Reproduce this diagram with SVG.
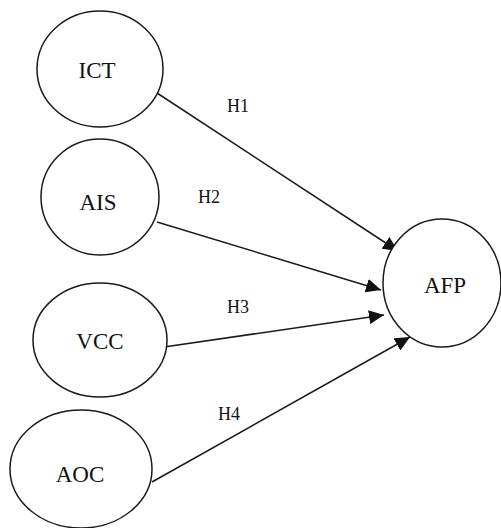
<svg xmlns="http://www.w3.org/2000/svg" width="501" height="528" viewBox="0 0 501 528">
<defs>
<style>
.node ellipse{fill:#fff;stroke:#1a1a1a;stroke-width:1.5}
.node text{font-family:"Liberation Serif","Times New Roman",serif;font-size:23px;fill:#111;text-anchor:middle}
.edge line{stroke:#1a1a1a;stroke-width:1.5}
.lbl{font-family:"Liberation Serif","Times New Roman",serif;font-size:18px;fill:#111;text-anchor:middle}
</style>
<marker id="arr" markerUnits="userSpaceOnUse" markerWidth="16" markerHeight="14" refX="15" refY="7" orient="auto">
<path d="M0,0 L15,7 L0,14 z" fill="#111"/>
</marker>
</defs>
<rect width="501" height="528" fill="#fff"/>
<g id="connectors" class="edge">
<line x1="157" y1="93" x2="398" y2="251" marker-end="url(#arr)"/>
<line x1="157" y1="222" x2="381" y2="290" marker-end="url(#arr)"/>
<line x1="164" y1="347" x2="384" y2="315" marker-end="url(#arr)"/>
<line x1="152" y1="482" x2="410" y2="337" marker-end="url(#arr)"/>
<text class="lbl" x="238" y="112">H1</text>
<text class="lbl" x="209" y="203">H2</text>
<text class="lbl" x="238" y="313">H3</text>
<text class="lbl" x="229" y="420">H4</text>
</g>
<g id="ICT" class="node"><ellipse cx="100" cy="69" rx="63" ry="58"/><text x="97" y="78">ICT</text></g>
<g id="AIS" class="node"><ellipse cx="100" cy="197" rx="59" ry="58"/><text x="98" y="210">AIS</text></g>
<g id="VCC" class="node"><ellipse cx="100" cy="340" rx="67" ry="57"/><text x="100" y="349">VCC</text></g>
<g id="AOC" class="node"><ellipse cx="81" cy="469" rx="71" ry="59"/><text x="80" y="482">AOC</text></g>
<g id="AFP" class="node"><ellipse cx="442" cy="283" rx="59" ry="64"/><text x="445" y="293">AFP</text></g>
</svg>
